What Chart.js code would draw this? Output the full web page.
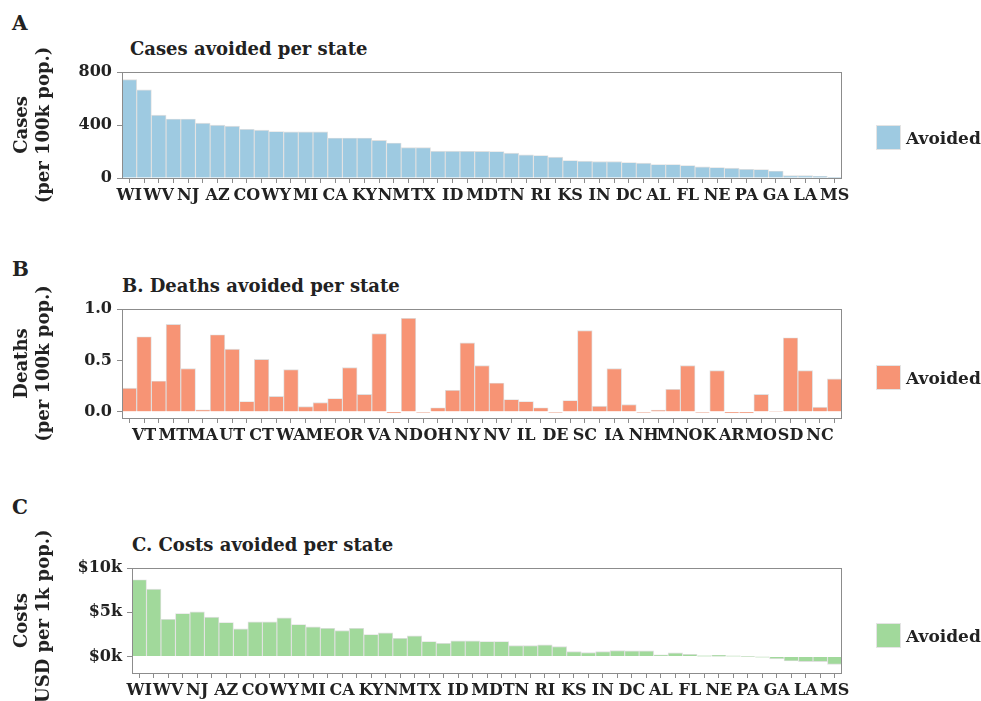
<!DOCTYPE html>
<html>
<head>
<meta charset="utf-8">
<script src="https://cdn.jsdelivr.net/npm/chart.js@4.4.1/dist/chart.umd.min.js"></script>
<style>
    body { margin: 0; width: 981px; height: 701px; overflow: hidden; position: relative; background: #fff;
           font-family: "DejaVu Serif", serif; font-weight: bold; color: #222; }
    canvas { position: absolute; left: 0; }
    .txt { position: absolute; white-space: nowrap; line-height: 1; }
    .letter { font-size: 20px; left: 12px; }
    .title { font-size: 18px; }
    .key { position: absolute; left: 876px; width: 23px; height: 23px; border: 1px solid #e4e4e4; }
    .keytext { font-size: 17px; left: 906px; }
</style>
</head>
<body>
<div class="txt letter" style="top:13px">A</div>
<div class="txt title" style="left:130px; top:40px">Cases avoided per state</div>
<canvas id="cases" width="981" height="215" style="top:0"></canvas>
<div class="key" style="top:125px; background:#9ecae1"></div>
<div class="txt keytext" style="top:130px">Avoided</div>

<div class="txt letter" style="top:259px">B</div>
<div class="txt title" style="left:122px; top:277px">B. Deaths avoided per state</div>
<canvas id="deaths" width="981" height="205" style="top:250px"></canvas>
<div class="key" style="top:365px; background:#f79475"></div>
<div class="txt keytext" style="top:370px">Avoided</div>

<div class="txt letter" style="top:497px">C</div>
<div class="txt title" style="left:132px; top:536px">C. Costs avoided per state</div>
<canvas id="costs" width="981" height="201" style="top:500px"></canvas>
<div class="key" style="top:623px; background:#a1d99b"></div>
<div class="txt keytext" style="top:628px">Avoided</div>

<script>
// states in plotted order (sorted by cases avoided)
var states = ["WI", "VT", "WV", "MT", "NJ", "MA", "AZ", "UT", "CO", "CT",
    "WY", "WA", "MI", "ME", "CA", "OR", "KY", "VA", "NM", "ND",
    "TX", "OH", "ID", "NY", "MD", "NV", "TN", "IL", "RI", "DE",
    "KS", "SC", "IN", "IA", "DC", "NH", "AL", "MN", "FL", "OK",
    "NE", "AR", "PA", "MO", "GA", "SD", "LA", "NC", "MS"];

// cases avoided per 100k
var cases = [742, 665, 475, 445, 445, 414, 399, 391, 368, 361,
    351, 348, 348, 348, 302, 302, 302, 284, 264, 229,
    229, 203, 203, 202, 201, 200, 188, 175, 170, 157,
    132, 127, 124, 124, 117, 112, 102, 102, 94, 84,
    79, 74, 66, 64, 53, 18, 18, 13, 3];

// deaths avoided per 100k
var deaths = [0.23, 0.73, 0.30, 0.85, 0.42, 0.02, 0.75, 0.61, 0.10, 0.51,
    0.15, 0.41, 0.05, 0.09, 0.13, 0.43, 0.17, 0.76, -0.01, 0.91,
    -0.005, 0.04, 0.21, 0.67, 0.45, 0.28, 0.12, 0.10, 0.04, -0.005,
    0.11, 0.79, 0.055, 0.42, 0.07, -0.005, 0.016, 0.22, 0.45, -0.005,
    0.40, -0.01, -0.01, 0.17, 0.005, 0.72, 0.40, 0.046, 0.32];

// costs avoided, USD per 1k
var costs = [8670, 7615, 4220, 4860, 5050, 4450, 3845, 3130, 3920, 3920,
    4370, 3620, 3355, 3205, 2940, 3205, 2490, 2675, 2075, 2340,
    1700, 1510, 1770, 1770, 1700, 1700, 1245, 1245, 1320, 1130,
    565, 450, 565, 680, 640, 640, 190, 415, 265, 100,
    150, 80, 30, -30, -250, -490, -565, -565, -870];

var casesTicks = [0, 400, 800];
var deathsTicks = [0, 0.5, 1];
var costsTicks = [0, 5000, 10000];

var fontFamily = '"DejaVu Serif", serif';
var ink = '#222';
var axisGrey = '#8c8c8c';

// grey box round the plot area
var frame = {
    id: 'frame',
    afterDraw: function (chart) {
        var a = chart.chartArea, ctx = chart.ctx;
        ctx.save();
        ctx.strokeStyle = axisGrey;
        ctx.lineWidth = 1;
        ctx.strokeRect(Math.round(a.left) + 0.5, Math.round(a.top) + 0.5,
            Math.round(a.right - a.left) - 1, Math.round(a.bottom - a.top));
        ctx.restore();
    }
};

function drawPanel(id, values, color, p) {
    var ctx = document.getElementById(id).getContext('2d');
    return new Chart(ctx, {
        type: 'bar',
        data: {
            labels: states,
            datasets: [{
                label: 'Avoided',
                data: values,
                backgroundColor: color,
                borderColor: '#e0e0e0',
                borderWidth: 0.9,
                barPercentage: 1,
                categoryPercentage: 1
            }]
        },
        plugins: [frame],
        options: {
            responsive: false,
            animation: false,
            layout: {padding: {top: p.top, left: 0, right: 139, bottom: 0}},
            plugins: {legend: {display: false}, tooltip: {enabled: false}},
            scales: {
                x: {
                    afterFit: function (s) { s.height = p.xHeight; },
                    ticks: {
                        autoSkip: false, maxRotation: 0, minRotation: 0, padding: 3,
                        color: ink, font: {family: fontFamily, size: 16, weight: 'bold'},
                        callback: function (v, i) { return i % 2 === p.parity ? states[i] : ''; }
                    },
                    grid: {drawOnChartArea: false, offset: false, tickLength: 5, tickColor: axisGrey},
                    border: {display: false}
                },
                y: {
                    min: p.min,
                    max: p.max,
                    afterBuildTicks: function (s) {
                        s.ticks = p.ticks.map(function (v) { return {value: v}; });
                    },
                    afterFit: function (s) { s.width = p.yWidth; },
                    ticks: {
                        padding: 5, color: ink,
                        font: {family: fontFamily, size: 16, weight: 'bold'},
                        callback: p.fmt
                    },
                    grid: {drawOnChartArea: false, tickLength: 5, tickColor: axisGrey},
                    border: {display: false},
                    title: {
                        display: true, text: p.title, color: ink,
                        font: {family: fontFamily, size: 18, weight: 'bold', lineHeight: 1.25},
                        padding: {top: 11, bottom: 0}
                    }
                }
            }
        }
    });
}

drawPanel('cases', cases, '#9ecae1', {
    top: 72, xHeight: 37, yWidth: 122, parity: 0,
    min: 0, max: 800, ticks: casesTicks,
    fmt: function (v) { return String(v); },
    title: ['Cases', '(per 100k pop.)']
});

drawPanel('deaths', deaths, '#f79475', {
    top: 59, xHeight: 37, yWidth: 122, parity: 1,
    min: -0.06, max: 1, ticks: deathsTicks,
    fmt: function (v) { return v.toFixed(1); },
    title: ['Deaths', '(per 100k pop.)']
});

drawPanel('costs', costs, '#a1d99b', {
    top: 68, xHeight: 28, yWidth: 132, parity: 0,
    min: -1850, max: 10000, ticks: costsTicks,
    fmt: function (v) { return '$' + Math.round(v / 1000) + 'k'; },
    title: ['Costs', '(USD per 1k pop.)']
});
</script>
</body>
</html>
